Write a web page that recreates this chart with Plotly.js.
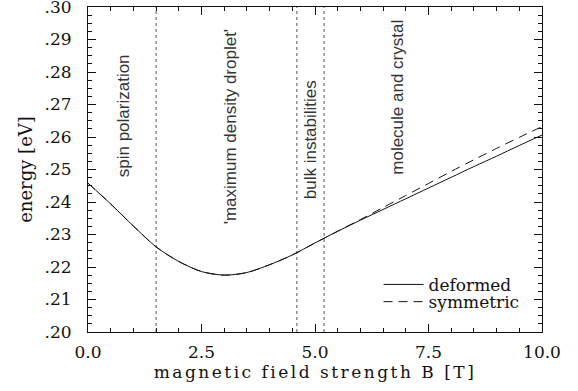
<!DOCTYPE html>
<html>
<head>
<meta charset="utf-8">
<script src="https://cdn.plot.ly/plotly-3.0.1.min.js"></script>
<style>
  html, body { margin: 0; padding: 0; background: #fff; }
  #chart { width: 578px; height: 391px; }
  .xtitle { letter-spacing: 2.5px; }
</style>
</head>
<body>
<div id="chart"></div>
<script>
// ---- data ----
const fieldB = [0, 0.5, 1, 1.5, 2, 2.5, 3, 3.5, 4, 4.5, 5, 5.5, 6, 6.5, 7, 7.5, 8, 8.5, 9, 9.5, 10];
const energyDeformed = [0.2458, 0.2394, 0.2326, 0.2262, 0.2217, 0.2186, 0.2175, 0.2183, 0.2207, 0.2237, 0.2274, 0.2310, 0.2344, 0.2377, 0.2410, 0.2443, 0.2476, 0.2509, 0.2541, 0.2574, 0.2606];
const energySymmetric = [0.2458, 0.2394, 0.2326, 0.2262, 0.2217, 0.2186, 0.2175, 0.2183, 0.2207, 0.2237, 0.2274, 0.2310, 0.2346, 0.2383, 0.2420, 0.2457, 0.2494, 0.2530, 0.2565, 0.2599, 0.2632];
const seriesNames = ["deformed", "symmetric"];
const phaseBoundaries = [1.5, 4.6, 5.2];
const regionLabels = ["spin polarization", "'maximum density droplet'", "bulk instabilities", "molecule and crystal"];
const yTickValues = [0.20, 0.21, 0.22, 0.23, 0.24, 0.25, 0.26, 0.27, 0.28, 0.29, 0.30];
const yTickLabels = [".20", ".21", ".22", ".23", ".24", ".25", ".26", ".27", ".28", ".29", ".30"];
const xTickValues = [0, 2.5, 5, 7.5, 10];
const xTickLabels = ["0.0", "2.5", "5.0", "7.5", "10.0"];

const serif = "DejaVu Serif, serif";
const sans = "Liberation Sans, Arial, sans-serif";
const ink = "#111";

const traces = [
  {x: fieldB, y: energyDeformed, name: seriesNames[0], type: "scatter", mode: "lines",
   line: {color: ink, width: 1, shape: "spline", smoothing: 0.8}, legend: "legend"},
  {x: fieldB, y: energySymmetric, name: seriesNames[1], type: "scatter", mode: "lines",
   line: {color: ink, width: 1, dash: "9px,6px", shape: "spline", smoothing: 0.8}, legend: "legend2"}
];

const labelPos = [
  {x: 0.78, y: 0.2665},
  {x: 3.13, y: 0.2630},
  {x: 4.89, y: 0.2590},
  {x: 6.80, y: 0.2723}
];

const axisCommon = {
  showline: true, linecolor: ink, linewidth: 1, mirror: "ticks",
  ticks: "inside", ticklen: 8, tickwidth: 1, tickcolor: ink,
  showgrid: false, zeroline: false, ticklabeloverflow: "allow",
  tickfont: {family: serif, size: 17, color: ink}
};

const legendCommon = {xanchor: "left", yanchor: "middle", bgcolor: "rgba(0,0,0,0)",
  itemwidth: 40, font: {family: serif, size: 17, color: ink}};

const layout = {
  width: 578, height: 391,
  margin: {l: 88, r: 36, t: 7, b: 59},
  showlegend: true,
  xaxis: Object.assign({}, axisCommon, {
    range: [0, 10], tickmode: "array", tickvals: xTickValues, ticktext: xTickLabels,
    ticklabelstandoff: 5,
    minor: {tickmode: "linear", tick0: 0, dtick: 0.5, ticks: "inside", ticklen: 4},
    title: {text: "magnetic field strength B [T]", font: {family: serif, size: 17, color: ink}, standoff: 3}
  }),
  yaxis: Object.assign({}, axisCommon, {
    range: [0.20, 0.30], tickmode: "array", tickvals: yTickValues, ticktext: yTickLabels,
    ticklabelstandoff: 12,
    minor: {tickmode: "linear", tick0: 0.20, dtick: 0.0025, ticks: "inside", ticklen: 4},
    title: {text: "energy [eV]", font: {family: serif, size: 18, color: ink}, standoff: 7}
  }),
  legend: Object.assign({x: 0.64, y: 0.145}, legendCommon),
  legend2: Object.assign({x: 0.64, y: 0.092}, legendCommon),
  shapes: phaseBoundaries.map(b => ({
    type: "line", xref: "x", yref: "paper", x0: b, x1: b, y0: 0, y1: 1,
    line: {color: "#555", width: 1, dash: "dot"}, layer: "below"
  })),
  annotations: regionLabels.map((t, i) => ({
    text: t, x: labelPos[i].x, y: labelPos[i].y, xref: "x", yref: "y",
    showarrow: false, textangle: -90, xanchor: "center", yanchor: "middle",
    font: {family: sans, size: 17, color: "#333"}
  }))
};

Plotly.newPlot("chart", traces, layout, {displayModeBar: false, staticPlot: true});
</script>
</body>
</html>
